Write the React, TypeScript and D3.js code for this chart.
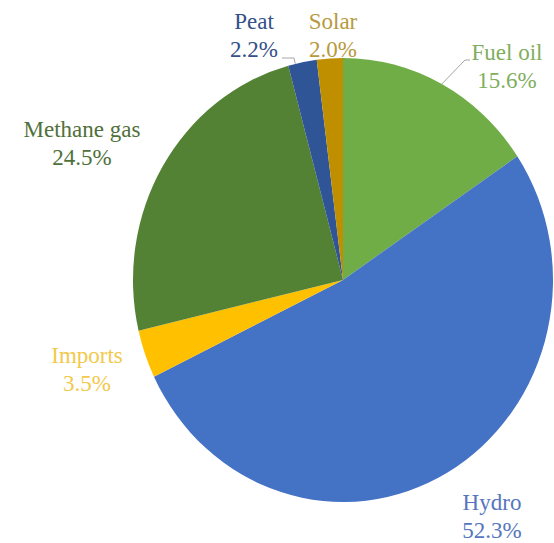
import React from "react";
import * as d3 from "d3";

const categories = ["Fuel oil", "Hydro", "Imports", "Methane gas", "Peat", "Solar"];
const values = [15.6, 52.3, 3.5, 24.5, 2.2, 2.0];
const valueLabels = ["15.6%", "52.3%", "3.5%", "24.5%", "2.2%", "2.0%"];

const sliceColors: Record<string, string> = {
  "Fuel oil": "#70AD47",
  Hydro: "#4472C4",
  Imports: "#FFC000",
  "Methane gas": "#548235",
  Peat: "#2F5597",
  Solar: "#BF8F00",
};
const textColors: Record<string, string> = {
  "Fuel oil": "#7FAE5E",
  Hydro: "#5676BE",
  Imports: "#F2C94C",
  "Methane gas": "#50703A",
  Peat: "#35508A",
  Solar: "#B79A3E",
};

// label layout: offsets of text centre / first baseline from pie centre
const labelLayout: Record<string, { dx: number; dy: number; elbow?: [number, number]; elbow2?: [number, number] }> = {
  "Fuel oil": { dx: 164, dy: -220, elbow: [127, -220], elbow2: [122, -220] },
  Hydro: { dx: 149, dy: 230 },
  Imports: { dx: -256, dy: 83 },
  "Methane gas": { dx: -261, dy: -143 },
  Peat: { dx: -89, dy: -251, elbow: [-61, -222], elbow2: [-49, -222] },
  Solar: { dx: -10, dy: -251 },
};

const W = 554;
const H = 543;
const cx = 343;
const cy = 280;
const R = 210;
const sy = 222 / 210;
const FONT = "'Liberation Serif', 'DejaVu Serif', 'Times New Roman', Times, serif";

export default function App() {
  const data = categories.map((c, i) => ({ c, v: values[i], l: valueLabels[i] }));
  const pie = d3.pie<any>().sort(null).value((d) => d.v).startAngle(0).endAngle(2 * Math.PI);
  const arcs = pie(data);
  const arc = d3.arc<any>().innerRadius(0).outerRadius(R);
  const edge = (a: number) => [R * Math.sin(a), -R * Math.cos(a) * sy];

  return (
    <svg width={W} height={H} style={{ position: "absolute", left: 0, top: 0, background: "#fff" }}>
      <g transform={`translate(${cx},${cy}) scale(1,${sy})`}>
        {arcs.map((a) => (
          <path key={a.data.c} d={arc(a) as string} fill={sliceColors[a.data.c]} />
        ))}
      </g>
      <g transform={`translate(${cx},${cy})`}>
        {arcs.map((a) => {
          const L = labelLayout[a.data.c];
          if (!L.elbow) return null;
          const mid = (a.startAngle + a.endAngle) / 2;
          const target = a.data.c === "Peat" ? edge(a.startAngle + (a.endAngle - a.startAngle) * 0.25) : edge(mid);
          const pts = [L.elbow, L.elbow2!, target];
          return (
            <polyline
              key={"l" + a.data.c}
              points={pts.map((p) => p.join(",")).join(" ")}
              fill="none"
              stroke="#A6A6A6"
              strokeWidth={1}
            />
          );
        })}
        {arcs.map((a) => {
          const L = labelLayout[a.data.c];
          return (
            <text
              key={"t" + a.data.c}
              x={L.dx}
              y={L.dy}
              textAnchor="middle"
              fontFamily={FONT}
              fontSize={23}
              fill={textColors[a.data.c]}
            >
              <tspan x={L.dx}>{a.data.c}</tspan>
              <tspan x={L.dx} dy={28}>
                {a.data.l}
              </tspan>
            </text>
          );
        })}
      </g>
    </svg>
  );
}
